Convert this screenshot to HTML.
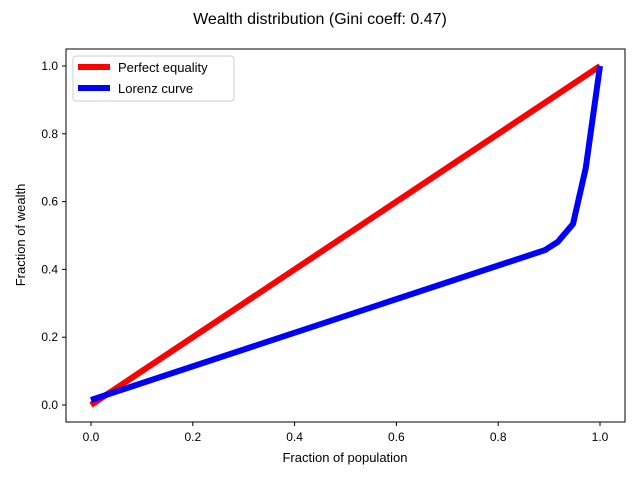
<!DOCTYPE html>
<html><head><meta charset="utf-8"><style>body{margin:0;background:#fff}svg{font-family:"Liberation Sans","DejaVu Sans",sans-serif}</style></head>
<body>
<svg width="640" height="480" xmlns="http://www.w3.org/2000/svg">
<rect width="640" height="480" fill="#fff"/>
<text x="320" y="24" font-size="16" text-anchor="middle">Wealth distribution (Gini coeff: 0.47)</text>
<g id="plot"></g>
<rect x="66" y="49" width="559" height="373" fill="none" stroke="#000" stroke-width="1"/>
<text x="345" y="462" font-size="13" text-anchor="middle">Fraction of population</text>
<text x="25" y="235" font-size="13" text-anchor="middle" transform="rotate(-90 25 235)">Fraction of wealth</text>
<g>
<rect x="73" y="56" width="161" height="45" rx="3" fill="#fff" stroke="#ccc"/>
<line x1="78" y1="67" x2="110" y2="67" stroke="#f00" stroke-width="6"/>
<text x="118" y="72" font-size="13">Perfect equality</text>
<line x1="78" y1="88" x2="110" y2="88" stroke="#00f" stroke-width="6"/>
<text x="118" y="93" font-size="13">Lorenz curve</text>
</g>
</svg>
<script>
const equalityX=[0,1];
const equalityY=[0,1];
const lorenzX=[0,0.892,0.917,0.947,0.972,1.0];
const lorenzY=[0.015,0.457,0.481,0.534,0.699,1.0];
const xTicks=[0,0.2,0.4,0.6,0.8,1.0];
const yTicks=[0,0.2,0.4,0.6,0.8,1.0];
const NS="http://www.w3.org/2000/svg";
const sx=v=>91+v*509, sy=v=>405-v*339;
const g=document.getElementById('plot');
function mk(t,a){const e=document.createElementNS(NS,t);for(const k in a)e.setAttribute(k,a[k]);g.appendChild(e);return e;}
xTicks.forEach(t=>{
 const l=mk('line',{x1:sx(t),x2:sx(t),y1:422,y2:426,stroke:'#000'});
 
 
 const tx=mk('text',{x:sx(t),y:441,'font-size':12,'text-anchor':'middle'});tx.textContent=t.toFixed(1);
 
 
});
yTicks.forEach(t=>{
 const l=mk('line',{x1:62,x2:66,y1:sy(t),y2:sy(t),stroke:'#000'});
 
 
 const tx=mk('text',{x:58,y:sy(t)+4,'font-size':12,'text-anchor':'end'});tx.textContent=t.toFixed(1);
 
 
});
const p1=mk('polyline',{points:equalityX.map((x,i)=>sx(x)+','+sy(equalityY[i])).join(' '),fill:'none',stroke:'#f00','stroke-width':6});


const p2=mk('polyline',{points:lorenzX.map((x,i)=>sx(x)+','+sy(lorenzY[i])).join(' '),fill:'none',stroke:'#00f','stroke-width':6});


</script>
</body></html>
